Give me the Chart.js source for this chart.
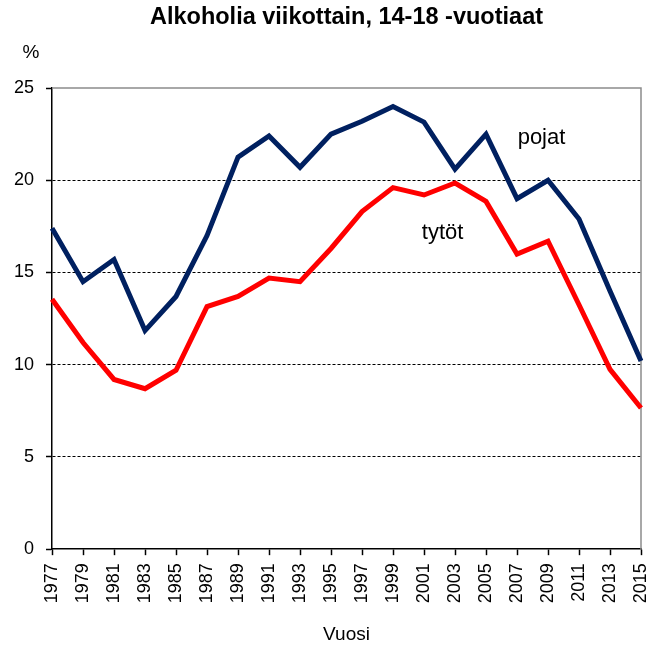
<!DOCTYPE html>
<html>
<head>
<meta charset="utf-8">
<script src="https://cdn.jsdelivr.net/npm/chart.js@4/dist/chart.umd.min.js"></script>
<style>
  html, body { margin: 0; padding: 0; background: #fff; }
  #wrap { width: 650px; height: 646px; }
</style>
</head>
<body>
<div id="wrap"><canvas id="alcoChart" width="650" height="646"></canvas></div>
<script>
const years = ['1977', '1979', '1981', '1983', '1985', '1987', '1989', '1991', '1993', '1995',
    '1997', '1999', '2001', '2003', '2005', '2007', '2009', '2011', '2013', '2015'];
const pojat = [17.4, 14.5, 15.7, 11.85, 13.7, 17.0, 21.25, 22.4, 20.7, 22.5,
    23.2, 24.0, 23.15, 20.6, 22.5, 19.0, 20.0, 17.9, 14.0, 10.2];
const tytot = [13.55, 11.2, 9.2, 8.7, 9.7, 13.15, 13.7, 14.7, 14.5, 16.3,
    18.3, 19.6, 19.2, 19.85, 18.85, 16.0, 16.7, 13.25, 9.75, 7.65];
const yTicks = [0, 5, 10, 15, 20, 25];
const chartTitle = 'Alkoholia viikottain, 14-18 -vuotiaat';

const ctx = document.getElementById('alcoChart').getContext('2d');

// gray frame on top/right, title, '%' unit and the series labels inside the plot
const extras = {
    id: 'extras',
    beforeDatasetsDraw(chart) {
        const { ctx, chartArea } = chart;
        ctx.save();
        ctx.strokeStyle = '#8c8c8c';
        ctx.lineWidth = 1.5;
        ctx.beginPath();
        ctx.moveTo(chartArea.left, chartArea.top);
        ctx.lineTo(chartArea.right, chartArea.top);
        ctx.lineTo(chartArea.right, chartArea.bottom);
        ctx.stroke();
        ctx.restore();
    },
    afterDraw(chart) {
        const { ctx, scales, chartArea } = chart;
        ctx.save();
        ctx.fillStyle = '#000';
        ctx.textAlign = 'center';
        ctx.textBaseline = 'middle';
        ctx.font = 'bold 23.5px "Liberation Sans", Arial, sans-serif';
        ctx.fillText(chartTitle, (chartArea.left + chartArea.right) / 2, 18);
        ctx.font = '19px "Liberation Sans", Arial, sans-serif';
        ctx.fillText('%', 31, 53);
        ctx.font = '22px "Liberation Sans", Arial, sans-serif';
        ctx.fillText('pojat', scales.x.getPixelForValue(15.79), scales.y.getPixelForValue(22.3));
        ctx.fillText('tytöt', scales.x.getPixelForValue(12.6), scales.y.getPixelForValue(17.15));
        ctx.restore();
    }
};

const alcoChart = new Chart(ctx, {
    type: 'line',
    data: {
        labels: years,
        datasets: [{
            label: 'pojat',
            data: pojat,
            borderColor: '#002060',
            borderWidth: 5,
            pointRadius: 0,
            tension: 0,
            fill: false
        }, {
            label: 'tytöt',
            data: tytot,
            borderColor: '#ff0000',
            borderWidth: 5,
            pointRadius: 0,
            tension: 0,
            fill: false
        }]
    },
    options: {
        responsive: false,
        animation: false,
        layout: {
            padding: { left: 2, right: 9, top: 88, bottom: 0 }
        },
        plugins: {
            legend: { display: false },
            tooltip: { enabled: false },
            title: { display: false }
        },
        scales: {
            x: {
                type: 'category',
                offset: false,
                afterFit(scale) {
                    scale.paddingLeft = 0;
                    scale.paddingRight = 0;
                },
                grid: {
                    drawOnChartArea: false,
                    drawTicks: true,
                    tickLength: 6,
                    tickColor: '#000',
                    tickWidth: 1.5
                },
                border: { color: '#000', width: 1.5 },
                ticks: {
                    autoSkip: false,
                    maxRotation: 90,
                    minRotation: 90,
                    padding: 8,
                    color: '#000',
                    font: { family: '"Liberation Sans", Arial, sans-serif', size: 18 }
                },
                title: {
                    display: true,
                    text: 'Vuosi',
                    color: '#000',
                    padding: { top: 12, bottom: 0 },
                    font: { family: '"Liberation Sans", Arial, sans-serif', size: 19 }
                }
            },
            y: {
                min: 0,
                max: 25,
                afterBuildTicks(axis) {
                    axis.ticks = yTicks.map(v => ({ value: v }));
                },
                afterFit(scale) {
                    scale.paddingTop = 0;
                },
                grid: {
                    color: c => (c.tick && (c.tick.value === 0 || c.tick.value === 25)) ? 'rgba(0,0,0,0)' : '#000',
                    lineWidth: 1,
                    tickLength: 6,
                    tickColor: '#000',
                    tickWidth: 1.5
                },
                border: { color: '#000', width: 1.5, dash: [3, 2] },
                ticks: {
                    padding: 12,
                    color: '#000',
                    font: { family: '"Liberation Sans", Arial, sans-serif', size: 18 }
                }
            }
        }
    },
    plugins: [extras]
});
</script>
</body>
</html>
